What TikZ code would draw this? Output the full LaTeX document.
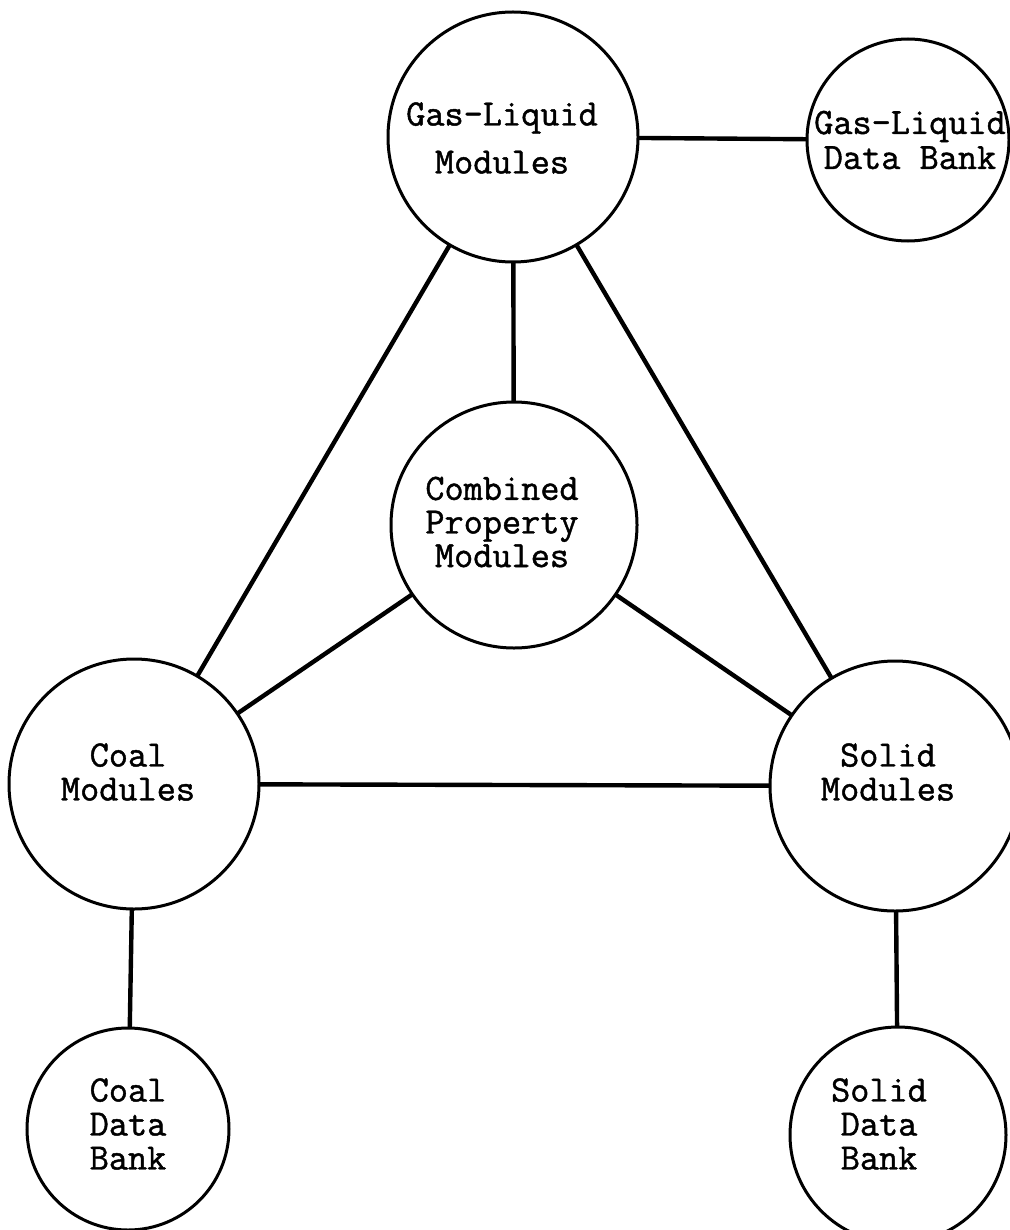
\documentclass[tikz,border=0pt]{standalone}
\usepackage{fontspec}
\newfontfamily\tw[FakeBold=1.2]{Latin Modern Mono}
\begin{document}
\begin{tikzpicture}[x=0.5pt,y=-0.5pt,
  bubble/.style={circle,draw,line width=1.5pt,inner sep=0pt,outer sep=0pt,minimum size=#1},
  lbl/.style={font=\tw\fontsize{18.6}{#1}\selectfont,align=center,inner sep=0pt},
  lbl/.default=17pt,
  link/.style={line width=2.2pt}]
  \fill[white] (0,0) rectangle (1009,1230);
  \useasboundingbox (0,0) rectangle (1009,1230);

  % module and data-bank circles
  \node[bubble=125pt] (gl)    at (513,137)  {};
  \node[bubble=101pt] (gldb)  at (908,140)  {};
  \node[bubble=123pt] (cp)    at (514,525)  {};
  \node[bubble=125pt] (coal)  at (134,784)  {};
  \node[bubble=125pt] (solid) at (895,786)  {};
  \node[bubble=101pt] (cdb)   at (128,1129) {};
  \node[bubble=108pt] (sdb)   at (898,1135) {};

  % labels
  \node[lbl=24pt] (tgl)    at (502,138)  {Gas-Liquid\\Modules};
  \node[lbl=17.5pt] (tgldb) at (910,140)  {Gas-Liquid\\Data Bank};
  \node[lbl=16.8pt] (tcp)  at (502,522)  {Combined\\Property\\Modules};
  \node[lbl] (tcoal)  at (128,772)  {Coal\\Modules};
  \node[lbl] (tsolid) at (888,772)  {Solid\\Modules};
  \node[lbl] (tcdb)   at (128,1124) {Coal\\Data\\Bank};
  \node[lbl] (tsdb)   at (879,1124) {Solid\\Data\\Bank};

  % connections
  \draw[link] (gl) -- (gldb);
  \draw[link] (gl) -- (cp);
  \draw[link] (gl) -- (coal);
  \draw[link] (gl) -- (solid);
  \draw[link] (cp) -- (coal);
  \draw[link] (cp) -- (solid);
  \draw[link] (coal) -- (solid);
  \draw[link] (coal) -- (cdb);
  \draw[link] (solid) -- (sdb);
\end{tikzpicture}
\end{document}
